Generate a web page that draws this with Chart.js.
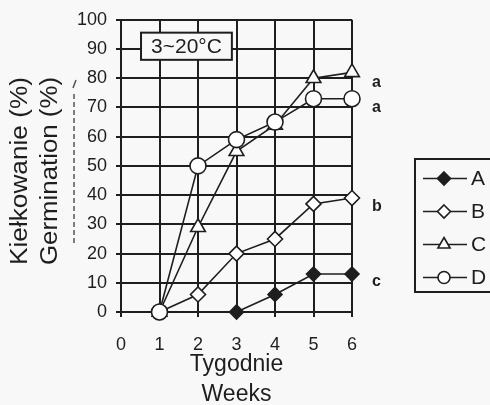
<!DOCTYPE html>
<html><head><meta charset="utf-8">
<script src="https://cdn.jsdelivr.net/npm/chart.js@4"></script>
<style>html,body{margin:0;padding:0;background:#f8f8f8;overflow:hidden}</style>
</head><body>
<canvas id="c" width="490" height="405" style="display:block;width:490px;height:405px"></canvas>
<script>
// ---- data ----
const weeks = [1, 2, 3, 4, 5, 6];
const seriesNames = ['A', 'B', 'C', 'D'];
const valuesA = [null, null, 0, 6, 13, 13];
const valuesB = [0, 6, 20, 25, 37, 39];
const valuesC = [0, 29, 55, 64, 80, 82];
const valuesD = [0, 50, 59, 65, 73, 73];
const xTickValues = [0, 1, 2, 3, 4, 5, 6];
const yTickValues = [0, 10, 20, 30, 40, 50, 60, 70, 80, 90, 100];
const sigLetters = ['a', 'a', 'b', 'c'];
const sigLevels = [78.6, 70, 36, 10.5];
const tempLabel = '3~20°C';
const yTitles = ['Kiełkowanie (%)', 'Germination (%)'];
const xTitles = ['Tygodnie', 'Weeks'];

const FONT = "'Liberation Sans', Arial, Helvetica, sans-serif";
const INK = '#1e1e1e';
const BG = '#f8f8f8';

function toPoints(vals) {
  return weeks.map((w, i) => ({ x: w, y: vals[i] }));
}
const styles = [
  { pointStyle: 'rectRot', r: 7, fill: INK },
  { pointStyle: 'rectRot', r: 7.5, fill: '#ffffff' },
  { pointStyle: 'triangle', r: 8.5, fill: '#ffffff' },
  { pointStyle: 'circle', r: 8, fill: '#ffffff' }
];
const allValues = [valuesA, valuesB, valuesC, valuesD];
const datasets = seriesNames.map((name, i) => ({
  label: name,
  data: toPoints(allValues[i]),
  borderColor: INK,
  borderWidth: 1.6,
  pointStyle: styles[i].pointStyle,
  pointRadius: styles[i].r,
  pointHoverRadius: styles[i].r,
  pointBackgroundColor: styles[i].fill,
  pointBorderColor: INK,
  pointBorderWidth: 1.6,
  fill: false,
  tension: 0,
  clip: false,
  order: 3 - i
}));

function drawMarker(ctx, style, r, fill, x, y) {
  ctx.save();
  ctx.beginPath();
  if (style === 'circle') {
    ctx.arc(x, y, r, 0, Math.PI * 2);
  } else if (style === 'rectRot') {
    ctx.moveTo(x, y - r); ctx.lineTo(x + r, y); ctx.lineTo(x, y + r); ctx.lineTo(x - r, y);
    ctx.closePath();
  } else if (style === 'triangle') {
    const a = Math.PI * 2 / 3;
    for (let k = 0; k < 3; k++) {
      const px = x + Math.sin(k * a) * r, py = y - Math.cos(k * a) * r;
      if (k === 0) ctx.moveTo(px, py); else ctx.lineTo(px, py);
    }
    ctx.closePath();
  }
  ctx.fillStyle = fill; ctx.fill();
  ctx.lineWidth = 1.6; ctx.strokeStyle = INK; ctx.stroke();
  ctx.restore();
}

const decor = {
  id: 'decor',
  beforeDraw(chart) {
    const ctx = chart.ctx;
    ctx.save(); ctx.fillStyle = BG; ctx.fillRect(0, 0, chart.width, chart.height); ctx.restore();
  },
  afterDraw(chart) {
    const ctx = chart.ctx;
    const xs = chart.scales.x, ys = chart.scales.y, ca = chart.chartArea;
    ctx.save();
    // temperature box
    const bx1 = xs.getPixelForValue(0.52), bx2 = xs.getPixelForValue(2.88);
    const by1 = ys.getPixelForValue(95.6), by2 = ys.getPixelForValue(86.3);
    ctx.fillStyle = BG; ctx.fillRect(bx1, by1, bx2 - bx1, by2 - by1);
    ctx.lineWidth = 2; ctx.strokeStyle = INK; ctx.strokeRect(bx1, by1, bx2 - bx1, by2 - by1);
    ctx.fillStyle = INK; ctx.font = '21px ' + FONT; ctx.textAlign = 'center'; ctx.textBaseline = 'middle';
    ctx.fillText(tempLabel, (bx1 + bx2) / 2, (by1 + by2) / 2 + 1);
    // significance letters
    ctx.font = 'bold 16px ' + FONT; ctx.textAlign = 'left';
    sigLetters.forEach((t, i) => ctx.fillText(t, ca.right + 20, ys.getPixelForValue(sigLevels[i])));
    // x title
    ctx.font = '23px ' + FONT; ctx.textAlign = 'center';
    const cx = (ca.left + ca.right) / 2;
    ctx.fillText(xTitles[0], cx, 365);
    ctx.fillText(xTitles[1], cx, 395);
    // y titles
    const yCenters = [21, 51];
    yTitles.forEach((t, i) => {
      ctx.save();
      ctx.translate(yCenters[i], 171);
      ctx.rotate(-Math.PI / 2);
      ctx.font = '23px ' + FONT;
      const w = ctx.measureText(t).width;
      ctx.scale(188 / w, 1);
      ctx.fillText(t, 0, 0);
      ctx.restore();
    });
    // cut-off third title line
    ctx.strokeStyle = '#555'; ctx.lineWidth = 1.5; ctx.setLineDash([5, 3]);
    ctx.beginPath(); ctx.moveTo(74, 243); ctx.lineTo(74, 92); ctx.stroke();
    ctx.setLineDash([]);
    ctx.beginPath(); ctx.moveTo(73, 88); ctx.lineTo(76, 80); ctx.stroke();
    // legend
    const lx = 415, ly = 159, lb = 292;
    ctx.lineWidth = 2; ctx.strokeStyle = INK;
    ctx.strokeRect(lx, ly, 100, lb - ly);
    ctx.font = '21px ' + FONT; ctx.textAlign = 'left'; ctx.textBaseline = 'middle'; ctx.fillStyle = INK;
    const legR = [6.5, 6.5, 7, 6];
    seriesNames.forEach((n, i) => {
      const y = 178.5 + i * 33;
      ctx.lineWidth = 1.6;
      ctx.beginPath(); ctx.moveTo(423, y); ctx.lineTo(467, y); ctx.stroke();
      drawMarker(ctx, styles[i].pointStyle, legR[i], styles[i].fill, 444, y);
      ctx.fillText(n, 471, y + 1);
    });
    ctx.restore();
  }
};

Chart.defaults.font.family = FONT;
Chart.defaults.color = INK;

new Chart(document.getElementById('c'), {
  type: 'line',
  data: { datasets },
  options: {
    responsive: false,
    animation: false,
    devicePixelRatio: 1,
    layout: { padding: { left: 0, top: 19, right: 138, bottom: 0 } },
    plugins: { legend: { display: false }, tooltip: { enabled: false } },
    scales: {
      x: {
        type: 'linear', min: 0, max: 6,
        afterBuildTicks: s => { s.ticks = xTickValues.map(v => ({ value: v })); },
        afterFit: s => { s.height = 93; },
        grid: { color: INK, lineWidth: 2, tickLength: 5 },
        border: { color: INK, width: 2 },
        ticks: { font: { size: 18 }, color: INK, padding: 17, maxRotation: 0 }
      },
      y: {
        min: 0, max: 100,
        afterBuildTicks: s => { s.ticks = yTickValues.map(v => ({ value: v })); },
        afterFit: s => { s.width = 121; },
        grid: { color: INK, lineWidth: 2, tickLength: 5 },
        border: { color: INK, width: 2 },
        ticks: { font: { size: 18 }, color: INK, padding: 9 }
      }
    }
  },
  plugins: [decor]
});
</script>
</body></html>
